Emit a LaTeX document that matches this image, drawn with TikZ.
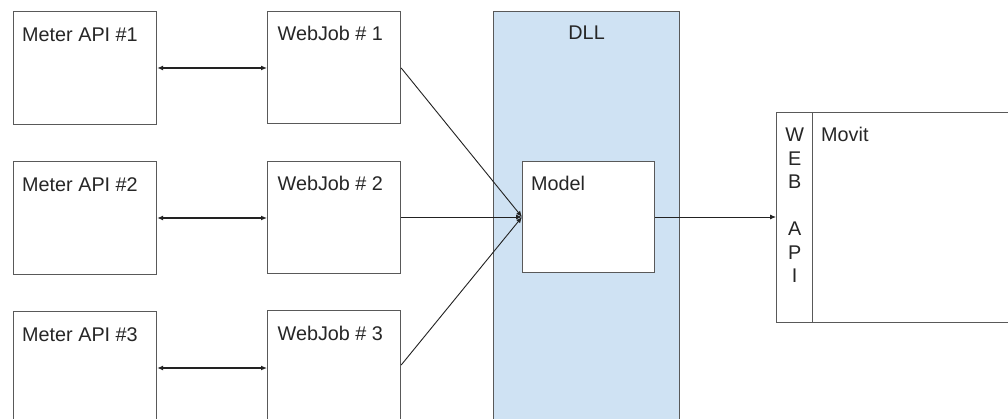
\documentclass[tikz,border=0pt]{standalone}
\usepackage{fontspec}
\setmainfont{Liberation Sans}
\usetikzlibrary{arrows.meta,calc}
\definecolor{edge}{RGB}{89,89,89}
\definecolor{wire}{RGB}{34,34,34}
\definecolor{dllblue}{RGB}{207,226,243}
\tikzset{
  box/.style={draw=edge, line width=1.2pt, fill=white, inner sep=0pt, anchor=north west},
  boxtext/.style={anchor=base west, inner sep=0pt, font=\fontsize{19.8}{23.5}\selectfont, text=black!85},
  link/.style={draw=wire, line width=0.9pt, -{Latex[length=6pt,width=5pt]}},
  twoway/.style={draw=wire, line width=1.4pt, {Latex[length=6pt,width=5pt]}-{Latex[length=6pt,width=5pt]}},
}
\begin{document}
\begin{tikzpicture}[x=1pt,y=-1pt]
  \useasboundingbox (0,0) rectangle (1008,419);
  \clip (0,0) rectangle (1008,419);
  \fill[white] (0,0) rectangle (1008,419);

  % DLL container
  \node[box, fill=dllblue, minimum width=186pt, minimum height=430pt] (dll) at (493,11) {};
  \node[boxtext, anchor=base] (dllt) at ($(dll.north)+(0,29)$) {DLL};

  % meter APIs
  \node[box, minimum width=143pt, minimum height=113pt] (m1) at (13,11) {};
  \node[box, minimum width=143pt, minimum height=113pt] (m2) at (13,161) {};
  \node[box, minimum width=143pt, minimum height=113pt] (m3) at (13,311) {};
  \node[boxtext] (m1t) at ($(m1.north west)+(9,30.5)$) {Meter API \#1};
  \node[boxtext] (m2t) at ($(m2.north west)+(9,30.5)$) {Meter API \#2};
  \node[boxtext] (m3t) at ($(m3.north west)+(9,30.5)$) {Meter API \#3};

  % web jobs
  \node[box, minimum width=133pt, minimum height=112pt] (w1) at (267,11) {};
  \node[box, minimum width=133pt, minimum height=112pt] (w2) at (267,161) {};
  \node[box, minimum width=133pt, minimum height=112pt] (w3) at (267,310) {};
  \node[boxtext] (w1t) at ($(w1.north west)+(10.5,30)$) {WebJob \# 1};
  \node[boxtext] (w2t) at ($(w2.north west)+(10.5,30)$) {WebJob \# 2};
  \node[boxtext] (w3t) at ($(w3.north west)+(10.5,30)$) {WebJob \# 3};

  % model inside the DLL
  \node[box, minimum width=132pt, minimum height=111pt] (model) at (522,161) {};
  \node[boxtext] (modelt) at ($(model.north west)+(9,29.5)$) {Model};

  % web API column and Movit
  \node[box, minimum width=36pt, minimum height=210pt] (api) at (776,112) {};
  \node[box, minimum width=220pt, minimum height=210pt] (movit) at (812,112) {};
  \node[boxtext] (movitt) at ($(movit.north west)+(9,29.5)$) {Movit};
  \node[boxtext, anchor=north, align=center] (apit) at ($(api.north)+(0,15.7)$) {W\\E\\B\\[23.5pt]A\\P\\I};

  % connectors
  \draw[twoway] (m1.east |- 0,68) -- (w1.west |- 0,68);
  \draw[twoway] (m2.east |- 0,218) -- (w2.west |- 0,218);
  \draw[twoway] (m3.east |- 0,368) -- (w3.west |- 0,368);

  \coordinate (w1out) at (w1.east |- 0,68);
  \coordinate (w3out) at (w3.east |- 0,365);
  \coordinate (modelin) at (model.west |- 0,217);
  \draw[link] (w1out) -- (modelin);
  \draw[link] (w2.east |- modelin) -- (modelin);
  \draw[link] (w3out) -- (modelin);
  \draw[link] (model.east |- modelin) -- (api.west |- modelin);
\end{tikzpicture}
\end{document}
